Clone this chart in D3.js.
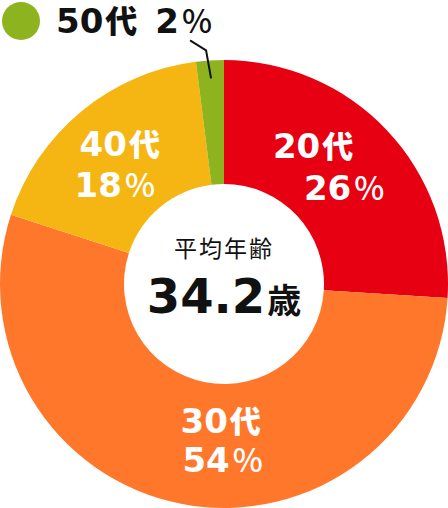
<!DOCTYPE html>
<html><head><meta charset="utf-8">
<script src="https://cdn.jsdelivr.net/npm/d3@7"></script>
<style>html,body{margin:0;padding:0;background:#fff;}svg{display:block;}</style>
</head><body>
<svg id="c" width="448" height="508"></svg>
<script>
const categories = ["20代", "30代", "40代", "50代"];
const values = [26, 54, 18, 2];
const colors = ["#E60012", "#FF772A", "#F5B614", "#8DB31F"];
const centerTitle = "平均年齢";
const centerValue = "34.2";
const centerUnit = "歳";
// label offsets relative to each slice centroid: [dx1, dy1, dx2, dy2]
const labelOffsets = [[-29, -15, 2, 27], [27, -10, 29, 29], [-1, -3, -6, 38], null];

const svg = d3.select("#c");
const cx = 224, cy = 284, R = 224, r = 100;
const g = svg.append("g").attr("transform", `translate(${cx},${cy})`);
const data = categories.map((c, i) => ({cat: c, v: values[i], col: colors[i], off: labelOffsets[i]}));
const pie = d3.pie().sort(null).value(d => d.v);
const arcs = pie(data);
const arc = d3.arc().innerRadius(r).outerRadius(R);
const labelArc = d3.arc().innerRadius(162).outerRadius(162);

g.selectAll("path").data(arcs).join("path").attr("d", arc).attr("fill", d => d.data.col);

const numFont = "'DejaVu Sans', sans-serif";
const jpFont = "'Noto Sans CJK JP', sans-serif";
const pct = (sel, fs) => sel.append("tspan").attr("font-family", jpFont).attr("font-weight", 500).attr("font-size", fs).attr("dx", 3).text("%");
const catText = (sel, cat, fs, kfs) => {
  const m = cat.match(/^(\d+)(.*)$/);
  sel.append("tspan").text(m[1]);
  sel.append("tspan").attr("font-family", jpFont).attr("font-weight", 900).attr("font-size", kfs).attr("dx", 2).text(m[2]);
};

arcs.filter(a => a.data.off).forEach(a => {
  const [x, y] = labelArc.centroid(a);
  const o = a.data.off;
  const t1 = g.append("text").attr("x", x + o[0]).attr("y", y + o[1]).attr("text-anchor", "middle")
    .attr("font-family", numFont).attr("font-weight", "bold").attr("font-size", 34).attr("fill", "#fff");
  catText(t1, a.data.cat, 34, 31);
  const t = g.append("text").attr("x", x + o[2]).attr("y", y + o[3]).attr("text-anchor", "middle")
    .attr("font-family", numFont).attr("font-weight", "bold").attr("font-size", 34).attr("fill", "#fff");
  t.append("tspan").text(a.data.v);
  pct(t, 32);
});

// 50代 callout
const last = arcs[3];
const [lx, ly] = d3.arc().innerRadius(206).outerRadius(206).centroid(last);
svg.append("path")
  .attr("d", d3.line()([[cx + lx, cy + ly], [cx + lx - 5, cy + ly - 28], [cx + lx - 21, cy + ly - 38]]))
  .attr("fill", "none").attr("stroke", "#111").attr("stroke-width", 2);
svg.append("circle").attr("cx", 21).attr("cy", 21).attr("r", 19).attr("fill", last.data.col);
const t5 = svg.append("text").attr("x", 56).attr("y", 33).attr("font-family", numFont).attr("font-weight", "bold")
  .attr("font-size", 34).attr("fill", "#111");
catText(t5, last.data.cat, 34, 32);
t5.append("tspan").attr("dx", 18).text(last.data.v);
pct(t5, 32);

// center
g.append("text").attr("x", 0).attr("y", -27).attr("text-anchor", "middle")
  .attr("font-family", jpFont).attr("font-size", 23).attr("fill", "#111").attr("letter-spacing", 2).text(centerTitle);
const tc = g.append("text").attr("x", 0).attr("y", 29).attr("text-anchor", "middle")
  .attr("font-family", numFont).attr("font-weight", "bold").attr("fill", "#111");
tc.append("tspan").attr("font-size", 48).text(centerValue);
tc.append("tspan").attr("font-family", jpFont).attr("font-size", 34).attr("font-weight", 700).attr("dx", 2).text(centerUnit);
</script>
</body></html>
